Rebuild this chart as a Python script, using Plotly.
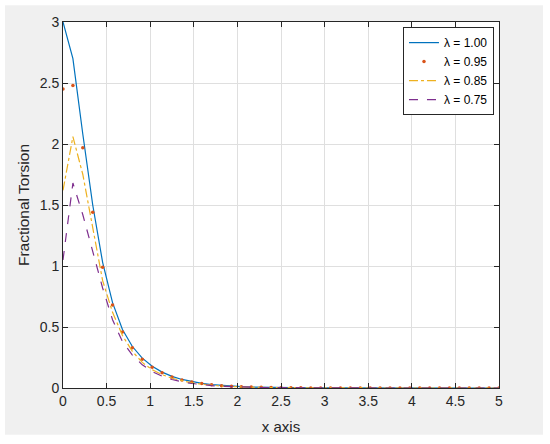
import plotly.graph_objects as go

# x samples (45 points from 0 to 5)
x = [0.0, 0.1136, 0.2273, 0.3409, 0.4545, 0.5682, 0.6818, 0.7955, 0.9091, 1.0227,
     1.1364, 1.25, 1.3636, 1.4773, 1.5909, 1.7045, 1.8182, 1.9318, 2.0455, 2.1591,
     2.2727, 2.3864, 2.5, 2.6136, 2.7273, 2.8409, 2.9545, 3.0682, 3.1818, 3.2955,
     3.4091, 3.5227, 3.6364, 3.75, 3.8636, 3.9773, 4.0909, 4.2045, 4.3182, 4.4318,
     4.5455, 4.6591, 4.7727, 4.8864, 5.0]

y_100 = [3.0, 2.70, 2.08, 1.50, 1.03, 0.70, 0.48, 0.34, 0.245, 0.178,
         0.13, 0.095, 0.07, 0.052, 0.038, 0.028, 0.021, 0.015, 0.011, 0.008,
         0.006, 0.0045, 0.0033, 0.0025, 0.0018, 0.0013, 0.001, 0.0007, 0.0005, 0.0004,
         0.0003, 0.0002, 0.0002, 0.0001, 0.0001, 0.0001, 0.0, 0.0, 0.0, 0.0,
         0.0, 0.0, 0.0, 0.0, 0.0]
y_095 = [2.45, 2.48, 1.97, 1.44, 0.99, 0.68, 0.46, 0.33, 0.235, 0.17,
         0.124, 0.09, 0.066, 0.049, 0.036, 0.026, 0.019, 0.014, 0.010, 0.0075,
         0.0055, 0.004, 0.003, 0.002, 0.0015, 0.001, 0.0008, 0.0006, 0.0004, 0.0003,
         0.0002, 0.0002, 0.0001, 0.0001, 0.0001, 0.0, 0.0, 0.0, 0.0, 0.0,
         0.0, 0.0, 0.0, 0.0, 0.0]
y_085 = [1.62, 2.06, 1.75, 1.30, 0.88, 0.62, 0.43, 0.30, 0.21, 0.15,
         0.11, 0.08, 0.058, 0.042, 0.031, 0.022, 0.016, 0.012, 0.008, 0.006,
         0.0045, 0.0033, 0.0024, 0.0018, 0.0013, 0.001, 0.0007, 0.0005, 0.0004, 0.0003,
         0.0002, 0.0002, 0.0001, 0.0001, 0.0001, 0.0, 0.0, 0.0, 0.0, 0.0,
         0.0, 0.0, 0.0, 0.0, 0.0]
y_075 = [1.05, 1.68, 1.42, 1.12, 0.82, 0.56, 0.38, 0.27, 0.19, 0.135,
         0.097, 0.07, 0.05, 0.037, 0.027, 0.02, 0.014, 0.010, 0.0075, 0.0055,
         0.004, 0.003, 0.0022, 0.0016, 0.0012, 0.0009, 0.0006, 0.0005, 0.0003, 0.0002,
         0.0002, 0.0001, 0.0001, 0.0001, 0.0, 0.0, 0.0, 0.0, 0.0, 0.0,
         0.0, 0.0, 0.0, 0.0, 0.0]

names = ["λ = 1.00", "λ = 0.95", "λ = 0.85", "λ = 0.75"]
x_ticks = [0, 0.5, 1, 1.5, 2, 2.5, 3, 3.5, 4, 4.5, 5]
x_ticklabels = ["0", "0.5", "1", "1.5", "2", "2.5", "3", "3.5", "4", "4.5", "5"]
y_ticks = [0, 0.5, 1, 1.5, 2, 2.5, 3]
y_ticklabels = ["0", "0.5", "1", "1.5", "2", "2.5", "3"]

FONT = "Liberation Sans, Arial, sans-serif"
AX = "#262626"

fig = go.Figure()
fig.add_trace(go.Scatter(x=x, y=y_100, name=names[0], mode="lines",
                         line=dict(color="#0072BD", width=1.2)))
fig.add_trace(go.Scatter(x=x, y=y_095, name=names[1], mode="markers",
                         marker=dict(color="#D95319", size=3.5)))
fig.add_trace(go.Scatter(x=x, y=y_085, name=names[2], mode="lines",
                         line=dict(color="#EDB120", width=1.2, dash="dashdot")))
fig.add_trace(go.Scatter(x=x, y=y_075, name=names[3], mode="lines",
                         line=dict(color="#7E2F8E", width=1.2, dash="dash")))

axis_common = dict(showline=True, linecolor=AX, linewidth=1, mirror="allticks",
                   ticks="inside", ticklen=5, tickcolor=AX, tickwidth=1,
                   showgrid=True, gridcolor="#dfdfdf", gridwidth=1,
                   zeroline=False, tickfont=dict(family=FONT, size=14, color=AX))

fig.update_layout(
    width=550, height=444,
    margin=dict(l=63, r=51, t=22, b=56),
    paper_bgcolor="white", plot_bgcolor="white",
    font=dict(family=FONT, color=AX),
    xaxis=dict(range=[0, 5], tickvals=x_ticks, ticktext=x_ticklabels,
               title=dict(text="x axis", font=dict(family=FONT, size=15, color=AX), standoff=13),
               **axis_common),
    yaxis=dict(range=[0, 3], tickvals=y_ticks, ticktext=y_ticklabels,
               title=dict(text="Fractional Torsion", font=dict(family=FONT, size=15.5, color=AX), standoff=6),
               **axis_common),
    legend=dict(x=0.9885, xanchor="right", y=0.986, yanchor="top",
                bgcolor="white", bordercolor=AX, borderwidth=1,
                font=dict(family=FONT, size=12, color="#000000"),
                tracegroupgap=0),
    shapes=[
        dict(type="rect", xref="paper", yref="paper",
             x0=-0.133, x1=1.101, y0=-0.128, y1=1.046,
             fillcolor="#f0f0f0", line=dict(width=0), layer="below"),
        dict(type="rect", xref="paper", yref="paper",
             x0=0, x1=1, y0=0, y1=1,
             fillcolor="white", line=dict(width=0), layer="below"),
    ],
)

fig.write_html("out.html", config={"displayModeBar": False},
               post_script="document.body.style.margin='0';document.body.style.padding='0';")
